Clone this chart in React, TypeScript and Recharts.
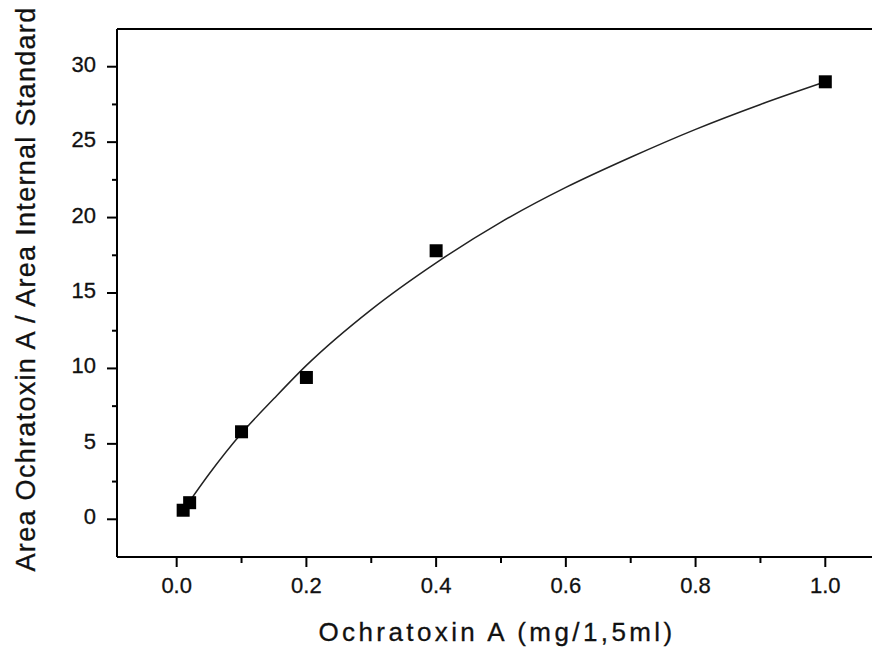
import React from 'react';
import { ComposedChart, Scatter, Line, XAxis, YAxis, ReferenceLine, Label } from 'recharts';

// measured calibration points
const pointX = [0.01, 0.02, 0.1, 0.2, 0.4, 1.0];
const pointY = [0.6, 1.1, 5.8, 9.4, 17.8, 29.0];

// fitted curve
const fitX = [0.02, 0.05, 0.1, 0.15, 0.2, 0.3, 0.4, 0.5, 0.6, 0.7, 0.8, 0.9, 1.0];
const fitY = [1.2, 3.0, 5.7, 8.0, 10.2, 13.9, 17.0, 19.7, 22.0, 24.0, 25.85, 27.5, 29.0];

const xTicks = [0, 0.1, 0.2, 0.3, 0.4, 0.5, 0.6, 0.7, 0.8, 0.9, 1.0];
const yTicks = [0, 2.5, 5, 7.5, 10, 12.5, 15, 17.5, 20, 22.5, 25, 27.5, 30];

const points = pointX.map((x, i) => ({ x, y: pointY[i] }));
const fit = fitX.map((x, i) => ({ x, y: fitY[i] }));

const font = 'Arial, "Liberation Sans", sans-serif';

const XTick = ({ x, y, payload }: any) => {
  const major = Math.round(payload.value * 10) % 2 === 0;
  return (
    <g>
      <line x1={x} x2={x} y1={y} y2={y + (major ? 10 : 6)} stroke="#000" strokeWidth={2} />
      {major && (
        <text x={x} y={y + 36} textAnchor="middle" fontSize={22} fontFamily={font} fill="#111" stroke="#111" strokeWidth={0.3}>
          {payload.value.toFixed(1)}
        </text>
      )}
    </g>
  );
};

const YTick = ({ x, y, payload }: any) => {
  const major = payload.value % 5 === 0;
  return (
    <g>
      <line x1={x} x2={x - (major ? 10 : 5)} y1={y} y2={y} stroke="#000" strokeWidth={2} />
      {major && (
        <text x={x - 21} y={y + 5} textAnchor="end" fontSize={22} fontFamily={font} fill="#111" stroke="#111" strokeWidth={0.3}>
          {payload.value}
        </text>
      )}
    </g>
  );
};

const Square = ({ cx, cy }: any) => <rect x={cx - 6.5} y={cy - 6.5} width={13} height={13} fill="#000" />;

const App = () => {
  return (
    <div style={{ width: 872, height: 654, background: '#fff' }}>
      <style>{`body{margin:0}`}</style>
      <ComposedChart width={872} height={654} margin={{ top: 29, right: 0, left: 0, bottom: 0 }}>
        <XAxis
          dataKey="x"
          type="number"
          domain={[-0.092, 1.072]}
          allowDataOverflow
          ticks={xTicks}
          interval={0}
          tick={<XTick />}
          tickLine={false}
          tickSize={0}
          tickMargin={0}
          height={97}
          axisLine={{ stroke: '#000', strokeWidth: 2 }}
        >
          <Label
            content={() => (
              <text x={497} y={641} textAnchor="middle" fontSize={26} letterSpacing={3.4} fontFamily={font} fill="#111" stroke="#111" strokeWidth={0.3}>
                Ochratoxin A (mg/1,5ml)
              </text>
            )}
          />
        </XAxis>
        <YAxis
          dataKey="y"
          type="number"
          domain={[-2.5, 32.5]}
          allowDataOverflow
          ticks={yTicks}
          interval={0}
          tick={<YTick />}
          tickLine={false}
          tickSize={0}
          tickMargin={0}
          width={117}
          axisLine={{ stroke: '#000', strokeWidth: 2 }}
        >
          <Label
            content={() => {
              const cx = 35;
              const cy = 289;
              return (
                <text x={cx} y={cy} transform={`rotate(-90 ${cx} ${cy})`} textAnchor="middle" fontSize={27} letterSpacing={1.3} fontFamily={font} fill="#111" stroke="#111" strokeWidth={0.3}>
                  Area Ochratoxin A / Area Internal Standard
                </text>
              );
            }}
          />
        </YAxis>
        <ReferenceLine y={32.5} stroke="#000" strokeWidth={2} ifOverflow="extendDomain" />
        <Line data={fit} dataKey="y" type="monotone" stroke="#222" strokeWidth={1.5} dot={false} isAnimationActive={false} />
        <Scatter data={points} dataKey="y" shape={<Square />} isAnimationActive={false} />
      </ComposedChart>
    </div>
  );
};

export default App;
